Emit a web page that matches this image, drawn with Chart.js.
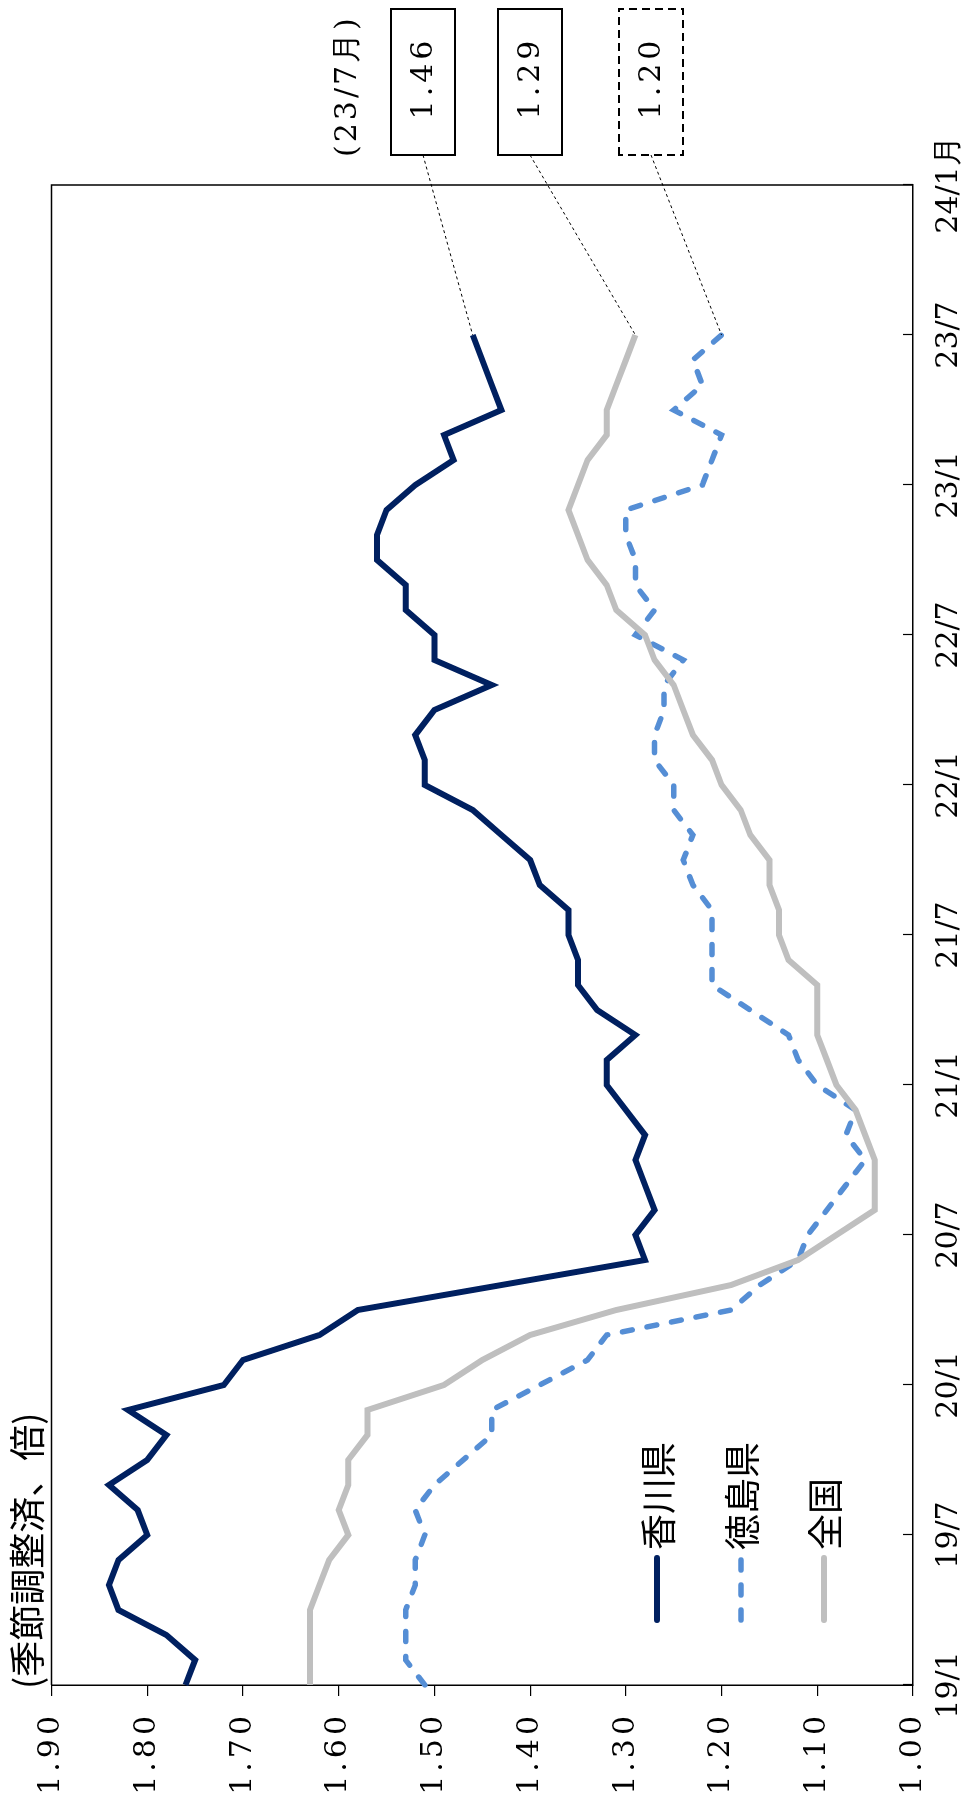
<!DOCTYPE html>
<html><head><meta charset="utf-8">
<script src="https://cdn.jsdelivr.net/npm/chart.js@4.4.1/dist/chart.umd.min.js"></script>
<style>
html,body{margin:0;padding:0;background:#fff;width:977px;height:1795px;overflow:hidden}
#wrap{position:absolute;left:0;top:0;width:1795px;height:977px;transform-origin:0 0;transform:translate(0px,1795px) rotate(-90deg)}
canvas{display:block}
</style></head><body>
<div id="wrap"><canvas id="c" width="1795" height="977"></canvas></div>
<script>
// ---- categories (months 19/1 .. 24/1) ----
const months = [
 '19/1','19/2','19/3','19/4','19/5','19/6','19/7','19/8','19/9','19/10','19/11','19/12',
 '20/1','20/2','20/3','20/4','20/5','20/6','20/7','20/8','20/9','20/10','20/11','20/12',
 '21/1','21/2','21/3','21/4','21/5','21/6','21/7','21/8','21/9','21/10','21/11','21/12',
 '22/1','22/2','22/3','22/4','22/5','22/6','22/7','22/8','22/9','22/10','22/11','22/12',
 '23/1','23/2','23/3','23/4','23/5','23/6','23/7','23/8','23/9','23/10','23/11','23/12',
 '24/1'
];
const tickLabels = ['19/1','19/7','20/1','20/7','21/1','21/7','22/1','22/7','23/1','23/7','24/1月'];
const yTickValues = [1.0,1.1,1.2,1.3,1.4,1.5,1.6,1.7,1.8,1.9];

// ---- series ----
const kagawa = [1.76,1.75,1.78,1.83,1.84,1.83,1.80,1.81,1.84,1.80,1.78,1.82,
 1.72,1.70,1.62,1.58,1.43,1.28,1.29,1.27,1.28,1.29,1.28,1.30,
 1.32,1.32,1.29,1.33,1.35,1.35,1.36,1.36,1.39,1.40,1.43,1.46,
 1.51,1.51,1.52,1.50,1.44,1.50,1.50,1.53,1.53,1.56,1.56,1.55,
 1.52,1.48,1.49,1.43,1.44,1.45,1.46];
const tokushima = [1.51,1.53,1.53,1.53,1.52,1.52,1.51,1.52,1.50,1.47,1.44,1.44,
 1.39,1.34,1.32,1.19,1.16,1.12,1.11,1.09,1.07,1.05,1.07,1.06,
 1.10,1.12,1.13,1.17,1.21,1.21,1.21,1.21,1.23,1.24,1.23,1.25,
 1.25,1.27,1.27,1.26,1.26,1.24,1.29,1.27,1.29,1.29,1.30,1.30,
 1.22,1.21,1.20,1.25,1.22,1.23,1.20];
const zenkoku = [1.63,1.63,1.63,1.63,1.62,1.61,1.59,1.60,1.59,1.59,1.57,1.57,
 1.49,1.45,1.40,1.31,1.19,1.12,1.08,1.04,1.04,1.04,1.05,1.06,
 1.08,1.09,1.10,1.10,1.10,1.13,1.14,1.14,1.15,1.15,1.17,1.18,
 1.20,1.21,1.23,1.24,1.25,1.27,1.28,1.31,1.32,1.34,1.35,1.36,
 1.35,1.34,1.32,1.32,1.31,1.30,1.29];
const seriesNames = ['香川県','徳島県','全国'];
const unitLabel = '(季節調整済、倍)';
const latestLabel = '(23/7月)';

const NAVY = '#002060', BLUE = '#558ED5', GRAY = '#BFBFBF';
const SERIF = "'DejaVu Serif', 'Liberation Serif', serif";
const SANS = "'Noto Sans CJK JP', sans-serif";
const DASH = [10, 15];

const deco = {
  id: 'deco',
  beforeDraw(chart) {
    const s = chart.scales.y;
    if (!s._spaced) {
      const orig = s.drawLabels;
      s.drawLabels = function (area) {
        const ctx = this.ctx; const prev = ctx.letterSpacing;
        ctx.letterSpacing = '4px';
        orig.call(this, area);
        ctx.letterSpacing = prev || '0px';
      };
      s._spaced = true;
    }
  },
  afterDraw(chart) {
    const { ctx, chartArea: a, scales: { x, y } } = chart;
    ctx.save();
    // frame top & right
    ctx.strokeStyle = '#000'; ctx.lineWidth = 1.5; ctx.setLineDash([]);
    ctx.beginPath(); ctx.moveTo(a.left, a.top); ctx.lineTo(a.right, a.top); ctx.lineTo(a.right, a.bottom); ctx.stroke();
    // inward x ticks
    ctx.lineWidth = 1.2;
    for (let i = 0; i < months.length; i += 6) {
      const px = Math.round(x.getPixelForValue(i)) + 0.5;
      ctx.beginPath(); ctx.moveTo(px, a.bottom); ctx.lineTo(px, a.bottom - 10); ctx.stroke();
    }
    // unit title
    ctx.fillStyle = '#000'; ctx.textAlign = 'left'; ctx.textBaseline = 'middle';
    ctx.font = '36px ' + SANS;
    ctx.fillText(unitLabel, 106, 27);
    // legend
    const legend = [
      { name: seriesNames[0], color: NAVY, dash: [], w: 6 },
      { name: seriesNames[1], color: BLUE, dash: DASH, w: 5.5 },
      { name: seriesNames[2], color: GRAY, dash: [], w: 6 }
    ];
    const rows = [657, 741, 824];
    legend.forEach((l, i) => {
      ctx.strokeStyle = l.color; ctx.lineWidth = l.w; ctx.lineCap = 'round'; ctx.setLineDash(l.dash);
      ctx.beginPath(); ctx.moveTo(175, rows[i]); ctx.lineTo(237, rows[i]); ctx.stroke();
      ctx.setLineDash([]);
      ctx.fillStyle = '#000'; ctx.font = '36px ' + SANS;
      ctx.fillText(l.name, 245, rows[i] + 1);
    });
    // latest value boxes
    const last = kagawa.length - 1;
    const boxes = [
      { v: kagawa[last], c: 423, dashed: false },
      { v: zenkoku[last], c: 530, dashed: false },
      { v: tokushima[last], c: 651, dashed: true }
    ];
    ctx.lineCap = 'butt';
    boxes.forEach(b => {
      ctx.strokeStyle = '#000'; ctx.lineWidth = 1; ctx.setLineDash([3, 3]);
      ctx.beginPath(); ctx.moveTo(1640, b.c); ctx.lineTo(x.getPixelForValue(last), y.getPixelForValue(b.v)); ctx.stroke();
      ctx.lineWidth = 2; ctx.setLineDash(b.dashed ? [8, 5] : []);
      ctx.fillStyle = '#fff';
      ctx.fillRect(1640, b.c - 32, 146, 64);
      ctx.strokeRect(1640, b.c - 32, 146, 64);
      ctx.setLineDash([]);
      ctx.fillStyle = '#000'; ctx.font = '30px ' + SERIF; ctx.textAlign = 'center';
      ctx.letterSpacing = '4px';
      ctx.fillText(b.v.toFixed(2), 1717, b.c + 1);
      ctx.letterSpacing = '0px';
    });
    ctx.textAlign = 'left'; ctx.font = '30px ' + SERIF; ctx.letterSpacing = '3px';
    ctx.fillText(latestLabel, 1638, 348);
    ctx.letterSpacing = '0px';
    ctx.restore();
  }
};

new Chart(document.getElementById('c'), {
  type: 'line',
  data: {
    labels: months,
    datasets: [
      { label: seriesNames[2], data: zenkoku, borderColor: GRAY, borderWidth: 6, pointRadius: 0, tension: 0, fill: false },
      { label: seriesNames[1], data: tokushima, borderColor: BLUE, borderWidth: 5.5, borderDash: DASH, borderCapStyle: 'round', pointRadius: 0, tension: 0, fill: false },
      { label: seriesNames[0], data: kagawa, borderColor: NAVY, borderWidth: 6, pointRadius: 0, tension: 0, fill: false }
    ]
  },
  options: {
    responsive: false, animation: false, devicePixelRatio: 1,
    layout: { padding: { left: 0, right: 185, top: 51.5, bottom: 0 } },
    plugins: { legend: { display: false }, tooltip: { enabled: false } },
    scales: {
      x: {
        type: 'category', offset: false,
        grid: { display: false, drawTicks: false },
        border: { display: true, color: '#000', width: 1.5 },
        ticks: { autoSkip: false, maxRotation: 0, minRotation: 0, padding: 18, color: '#000',
          font: { family: SERIF, size: 30 },
          callback: (v, i) => (i % 6 === 0 ? tickLabels[i / 6] : '') },
        afterFit: s => { s.height = 64; }
      },
      y: {
        min: 1.0, max: 1.9,
        afterBuildTicks: s => { s.ticks = yTickValues.map(v => ({ value: v })); },
        grid: { display: true, drawOnChartArea: false, drawTicks: true, tickLength: 11, color: '#000', lineWidth: 1.2 },
        border: { display: true, color: '#000', width: 1.5 },
        ticks: { padding: 16, color: '#000', font: { family: SERIF, size: 30 }, callback: v => Number(v).toFixed(2) },
        afterFit: s => { s.width = 110; }
      }
    }
  },
  plugins: [deco]
});
</script>
</body></html>
